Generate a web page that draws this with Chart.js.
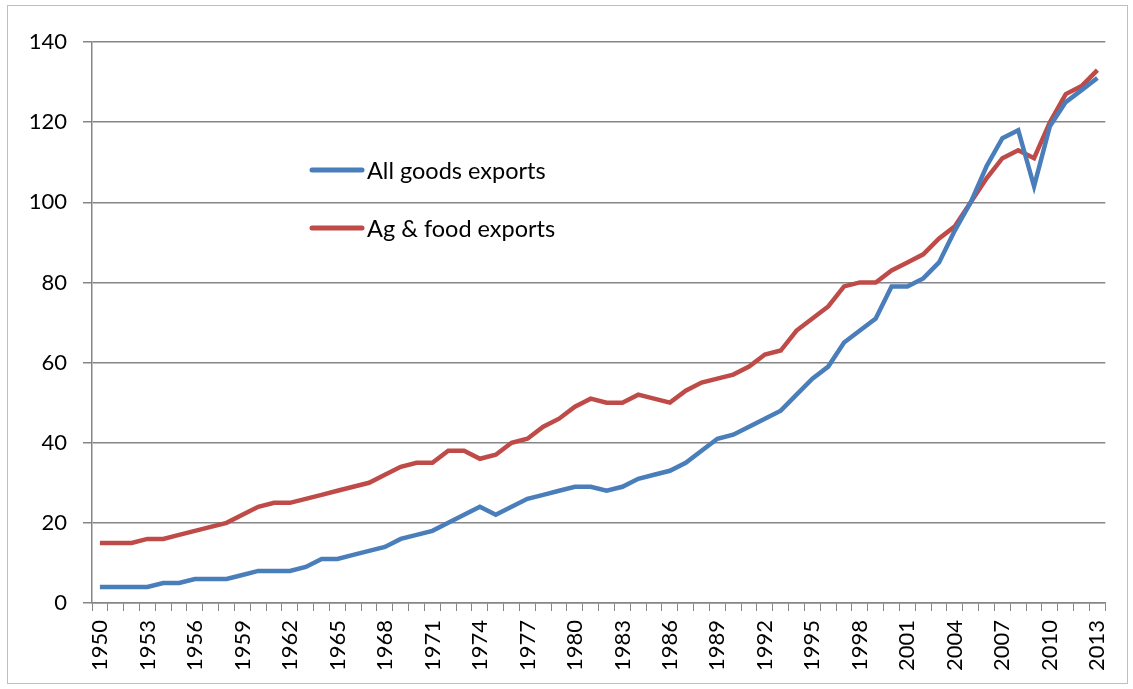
<!DOCTYPE html>
<html>
<head>
<meta charset="utf-8">
<title>Exports index</title>
<script src="https://cdn.jsdelivr.net/npm/chart.js@4.4.1/dist/chart.umd.min.js"></script>
<style>
  body { margin: 0; background: #fff; }
  #wrap { width: 1133px; height: 689px; }
</style>
</head>
<body>
<div id="wrap"><canvas id="canvas" width="1133" height="689"></canvas></div>
<script>
//////////////
//
//   DATA
//
//////////////

    var years = [];
    for (var y = 1950; y <= 2013; y++) { years.push(String(y)); }

    var allGoods = [4, 4, 4, 4, 5, 5, 6, 6, 6, 7,
                    8, 8, 8, 9, 11, 11, 12, 13, 14, 16,
                    17, 18, 20, 22, 24, 22, 24, 26, 27, 28,
                    29, 29, 28, 29, 31, 32, 33, 35, 38, 41,
                    42, 44, 46, 48, 52, 56, 59, 65, 68, 71,
                    79, 79, 81, 85, 93, 100, 109, 116, 118, 104,
                    119, 125, 128, 131];

    var agFood = [15, 15, 15, 16, 16, 17, 18, 19, 20, 22,
                  24, 25, 25, 26, 27, 28, 29, 30, 32, 34,
                  35, 35, 38, 38, 36, 37, 40, 41, 44, 46,
                  49, 51, 50, 50, 52, 51, 50, 53, 55, 56,
                  57, 59, 62, 63, 68, 71, 74, 79, 80, 80,
                  83, 85, 87, 91, 94, 100, 106, 111, 113, 111,
                  120, 127, 129, 133];

    var yTicks = [0, 20, 40, 60, 80, 100, 120, 140];

    var seriesLabels = ["All goods exports", "Ag & food exports"];
    var BLUE = "#4A7EBB";
    var RED = "#BE4B48";
    var FONT = "Lato";

//////////////
//
//   PLUGINS
//
//////////////

    // light frame round the whole chart, like the spreadsheet chart box
    var frame = {
        id: 'frame',
        beforeDraw: function(chart) {
            var c = chart.ctx;
            c.save();
            c.strokeStyle = '#bfbfbf';
            c.lineWidth = 1;
            c.strokeRect(7.5, 5.5, 1120, 678);
            c.restore();
        }
    };

    // legend sits inside the plot area
    var innerLegend = {
        id: 'innerLegend',
        afterDraw: function(chart) {
            var c = chart.ctx;
            var rows = [170, 228];
            c.save();
            chart.data.datasets.forEach(function(ds, i) {
                c.strokeStyle = ds.borderColor;
                c.lineWidth = 5;
                c.lineCap = 'round';
                c.beginPath();
                c.moveTo(312, rows[i]);
                c.lineTo(362, rows[i]);
                c.stroke();
                c.fillStyle = '#000';
                c.font = '23.5px ' + FONT;
                c.textBaseline = 'middle';
                c.fillText(ds.label, 367, rows[i] + 1);
            });
            c.restore();
        }
    };

//////////////
//
//   CHART
//
//////////////

    window.onload = function() {
        var ctx = document.getElementById("canvas").getContext("2d");
        window.myLine = new Chart(ctx, {
            type: 'line',
            data: {
                labels: years,
                datasets: [{
                    label: seriesLabels[0],
                    data: allGoods,
                    borderColor: BLUE,
                    backgroundColor: BLUE,
                    borderWidth: 4.5,
                    pointRadius: 0,
                    tension: 0,
                    fill: false
                }, {
                    label: seriesLabels[1],
                    data: agFood,
                    borderColor: RED,
                    backgroundColor: RED,
                    borderWidth: 4.5,
                    pointRadius: 0,
                    tension: 0,
                    fill: false
                }]
            },
            options: {
                responsive: false,
                animation: false,
                layout: {
                    padding: { left: 10, top: 42, right: 26, bottom: 8 }
                },
                plugins: {
                    legend: { display: false },
                    tooltip: { enabled: false }
                },
                scales: {
                    x: {
                        offset: true,
                        grid: {
                            offset: true,
                            drawOnChartArea: false,
                            drawTicks: true,
                            tickLength: 8,
                            color: '#868686'
                        },
                        border: { color: '#868686', width: 1.5 },
                        ticks: {
                            autoSkip: false,
                            maxRotation: 90,
                            minRotation: 90,
                            padding: 9,
                            color: '#000',
                            font: { family: FONT, size: 22 },
                            callback: function(val, index) {
                                return index % 3 === 0 ? this.getLabelForValue(val) : '';
                            }
                        },
                        afterFit: function(scale) { scale.height = 78; }
                    },
                    y: {
                        min: 0,
                        max: 140,
                        afterBuildTicks: function(scale) {
                            scale.ticks = yTicks.map(function(v) { return { value: v }; });
                        },
                        grid: {
                            color: '#868686',
                            lineWidth: 1.5,
                            tickLength: 9
                        },
                        border: { color: '#868686', width: 1.5 },
                        ticks: {
                            padding: 16,
                            color: '#000',
                            font: { family: FONT, size: 22 }
                        },
                        afterFit: function(scale) { scale.width = 82; }
                    }
                }
            },
            plugins: [frame, innerLegend]
        });
    };
</script>
</body>
</html>
